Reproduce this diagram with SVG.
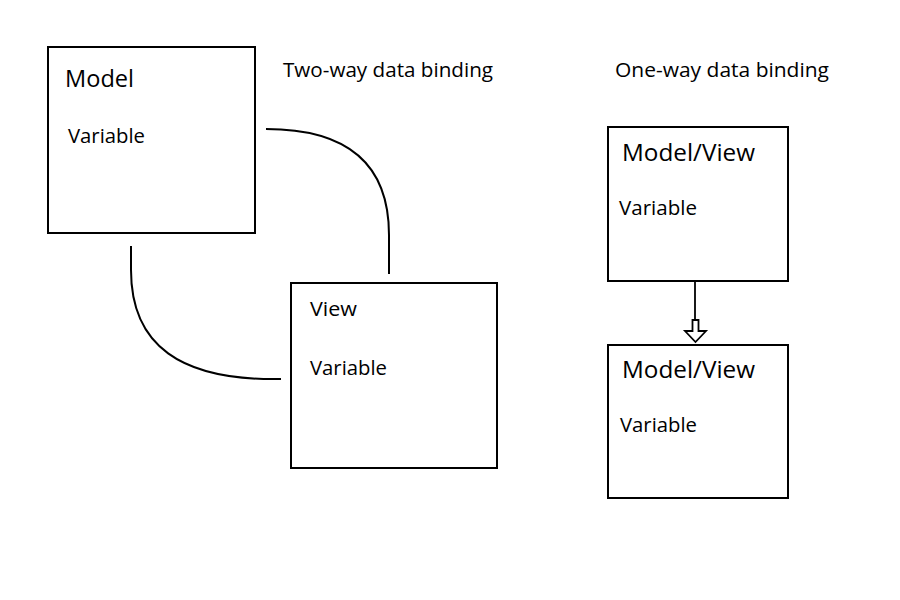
<svg xmlns="http://www.w3.org/2000/svg" width="900" height="600" viewBox="0 0 900 600">
<style>
.box{fill:#fff;stroke:#000;stroke-width:2}
.t{font-family:"Open Sans","Noto Sans","Liberation Sans",sans-serif;fill:#000}
.h{font-size:23px}
.v{font-size:20px}
.c{fill:none;stroke:#000;stroke-width:2}
</style>
<rect width="900" height="600" fill="#fff"/>
<text class="t v" x="283" y="77" textLength="210" lengthAdjust="spacingAndGlyphs">Two-way data binding</text>
<text class="t v" x="615" y="77" textLength="214" lengthAdjust="spacingAndGlyphs">One-way data binding</text>
<g id="model">
<rect class="box" x="48" y="47" width="207" height="186"/>
<text class="t h" x="65" y="87" textLength="69" lengthAdjust="spacingAndGlyphs">Model</text>
<text class="t v" x="68" y="143" textLength="77" lengthAdjust="spacingAndGlyphs">Variable</text>
</g>
<g id="view">
<rect class="box" x="291" y="283" width="206" height="185"/>
<text class="t v" x="310" y="316" textLength="47" lengthAdjust="spacingAndGlyphs">View</text>
<text class="t v" x="310" y="375" textLength="77" lengthAdjust="spacingAndGlyphs">Variable</text>
</g>
<g id="mv1">
<rect class="box" x="608" y="127" width="180" height="154"/>
<text class="t h" x="622" y="161" textLength="133" lengthAdjust="spacingAndGlyphs">Model/View</text>
<text class="t v" x="619" y="215" textLength="78" lengthAdjust="spacingAndGlyphs">Variable</text>
</g>
<g id="mv2">
<rect class="box" x="608" y="345" width="180" height="153"/>
<text class="t h" x="622" y="378" textLength="133" lengthAdjust="spacingAndGlyphs">Model/View</text>
<text class="t v" x="620" y="432" textLength="77" lengthAdjust="spacingAndGlyphs">Variable</text>
</g>
<g id="connectors">
<path class="c" d="M266,129 C355,129 389,170 389,235 L389,274"/>
<path class="c" d="M131,246 L131,270 C131,345 180,381 281,379"/>
<line x1="695" y1="281" x2="695" y2="331" stroke="#000" stroke-width="1.8"/>
<polygon points="692.5,320 698.5,320 698.5,331 706,331 695.5,342 685,331 692.5,331" fill="#fff" stroke="#000" stroke-width="1.8"/>
</g>
</svg>
